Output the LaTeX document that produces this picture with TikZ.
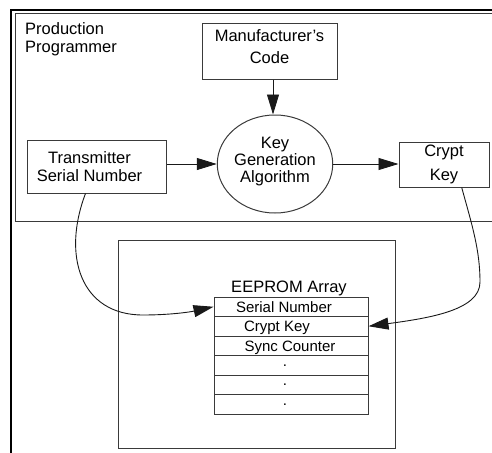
\documentclass[tikz,border=0pt]{standalone}
\usepackage{fontspec}
\setmainfont{Liberation Sans}
\usetikzlibrary{arrows.meta,shapes.geometric}
\definecolor{boxgray}{HTML}{3A3A3A}
\begin{document}
\begin{tikzpicture}[x=1pt,y=-1pt,
  lbl/.style={font=\fontsize{16.5}{18}\selectfont, align=center, inner sep=0pt},
  box/.style={draw=boxgray, line width=1pt, rectangle, inner sep=0pt},
  row/.style={box, minimum width=154pt, minimum height=19.5pt,
              font=\fontsize{15}{17}\selectfont},
  rowtext/.style={row, text height=10.7pt, text depth=0pt},
  flow/.style={draw=black!90, line width=0.9pt,
               -{Triangle[length=20pt,width=12pt]}}]
\useasboundingbox (0,0) rectangle (492,452);

% outer frame and the programmer enclosure
\draw[line width=1.6pt] (11,470) -- (11,10) -- (510,10);
\draw[boxgray, line width=1pt] (510,14) -- (15,14) -- (15,221) -- (510,221);
\node[lbl, align=left, anchor=north west] (prog) at (25,22.3)
  {Production\\Programmer};

% programmer blocks
\node[box, lbl, minimum width=135pt, minimum height=55pt, text depth=9pt,
  font=\fontsize{16.5}{22}\selectfont]
  (mfr) at (269.5,51.5) {Manufacturer's\\Code};
\node[box, minimum width=139pt, minimum height=53pt,
  label={[lbl, name=tsntext, xshift=-7pt]center:Transmitter\\Serial Number}]
  (tsn) at (96.5,166.5) {};
\node[ellipse, draw=boxgray, line width=1pt, lbl, minimum width=106pt,
  minimum height=98pt, text depth=7.5pt, font=\fontsize{16.5}{17}\selectfont]
  (alg) at (275,164) {Key\\Generation\\Algorithm};
\node[box, lbl, minimum width=90pt, minimum height=45pt,
  font=\fontsize{16.5}{24}\selectfont]
  (ck) at (444,164.5) {Crypt\\Key};

% transmitter EEPROM
\node[box, minimum width=277pt, minimum height=208pt] (chip) at (256.5,344) {};
\node[rowtext] (r1) at (291,306.75) {\kern-14pt Serial Number};
\node[rowtext] (r2) at (291,326.25) {\kern-28pt Crypt Key};
\node[rowtext] (r3) at (291,345.75) {\kern-2pt Sync Counter};
\node[row] (r4) at (291,365.25) {\kern-12pt .};
\node[row] (r5) at (291,384.75) {\kern-12pt .};
\node[row] (r6) at (291,404.25) {\kern-12pt .};
\node[lbl, anchor=base] (arr) at ([xshift=-2pt, yshift=3.7pt]r1.north)
  {EEPROM Array};

% data flow
\draw[flow] ([xshift=3.5pt]mfr.south) -- ([xshift=-2pt]alg.north);
\draw[flow] (tsn.east |- alg.west) -- (alg.west);
\draw[flow] (alg.east) -- (alg.east -| ck.west);
\draw[flow] ([xshift=-11pt]tsn.south)
  .. controls (62,255) and (80,315) .. (143,315)
  .. controls (170,315) and (190,312) .. (r1.west);
\draw[flow] ([xshift=17.7pt]ck.south)
  .. controls (472,225) and (480,250) .. (480,282)
  .. controls (480,310) and (430,318) .. (r2.east);
\end{tikzpicture}
\end{document}
